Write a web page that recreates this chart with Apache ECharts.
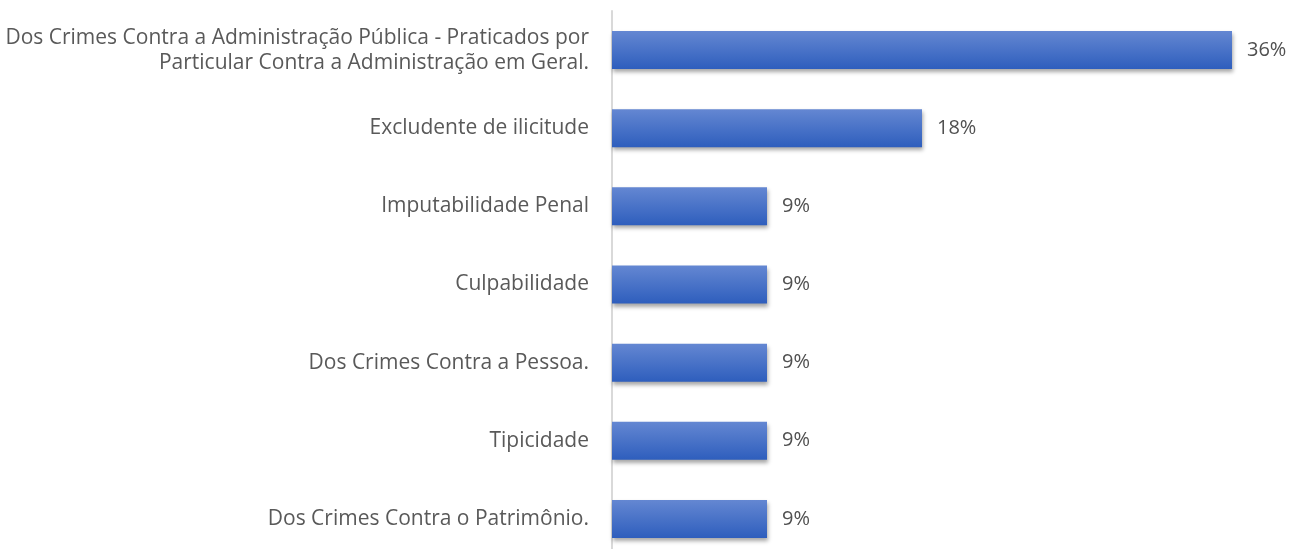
<!DOCTYPE html>
<html>
<head>
<meta charset="utf-8">
<script src="https://cdn.jsdelivr.net/npm/echarts@6/dist/echarts.min.js"></script>
<style>
  html, body { margin: 0; padding: 0; background: #fff; overflow: hidden; }
  #chart { width: 1294px; height: 558px; }
</style>
</head>
<body>
<div id="chart"></div>
<script>
// top to bottom as in the picture
const categories = [
  'Dos Crimes Contra a Administração Pública - Praticados por\nParticular Contra a Administração em Geral.',
  'Excludente de ilicitude',
  'Imputabilidade Penal',
  'Culpabilidade',
  'Dos Crimes Contra a Pessoa.',
  'Tipicidade',
  'Dos Crimes Contra o Patrimônio.'
]
const values = [36, 18, 9, 9, 9, 9, 9]

const chart = echarts.init(document.getElementById('chart'))

chart.setOption({
  animation: false,
  grid: { left: 612, right: 0, top: 11, bottom: 0 },
  xAxis: {
    type: 'value',
    min: 0,
    max: 36 * 682 / 620,   // 36% bar ends around x=1232
    show: false
  },
  yAxis: {
    type: 'category',
    inverse: true,
    data: categories,
    axisLine: { show: true, lineStyle: { color: '#d9d9d9', width: 2 } },
    axisTick: { show: false },
    axisLabel: {
      color: '#595959',
      fontFamily: 'Open Sans',
      fontSize: 21,
      lineHeight: 25,
      margin: 23,
      align: 'right'
    }
  },
  series: [{
    type: 'bar',
    data: values,
    barWidth: 38,
    itemStyle: {
      color: new echarts.graphic.LinearGradient(0, 0, 0, 1, [
        { offset: 0, color: '#6487d2' },
        { offset: 1, color: '#2e5ebd' }
      ]),
      shadowColor: 'rgba(0,0,0,0.35)',
      shadowBlur: 4,
      shadowOffsetY: 3,
      shadowOffsetX: 1
    },
    label: {
      show: true,
      position: 'right',
      distance: 15,
      formatter: '{c}%',
      color: '#505050',
      fontFamily: 'Open Sans',
      fontSize: 20
    }
  }]
})
</script>
</body>
</html>
